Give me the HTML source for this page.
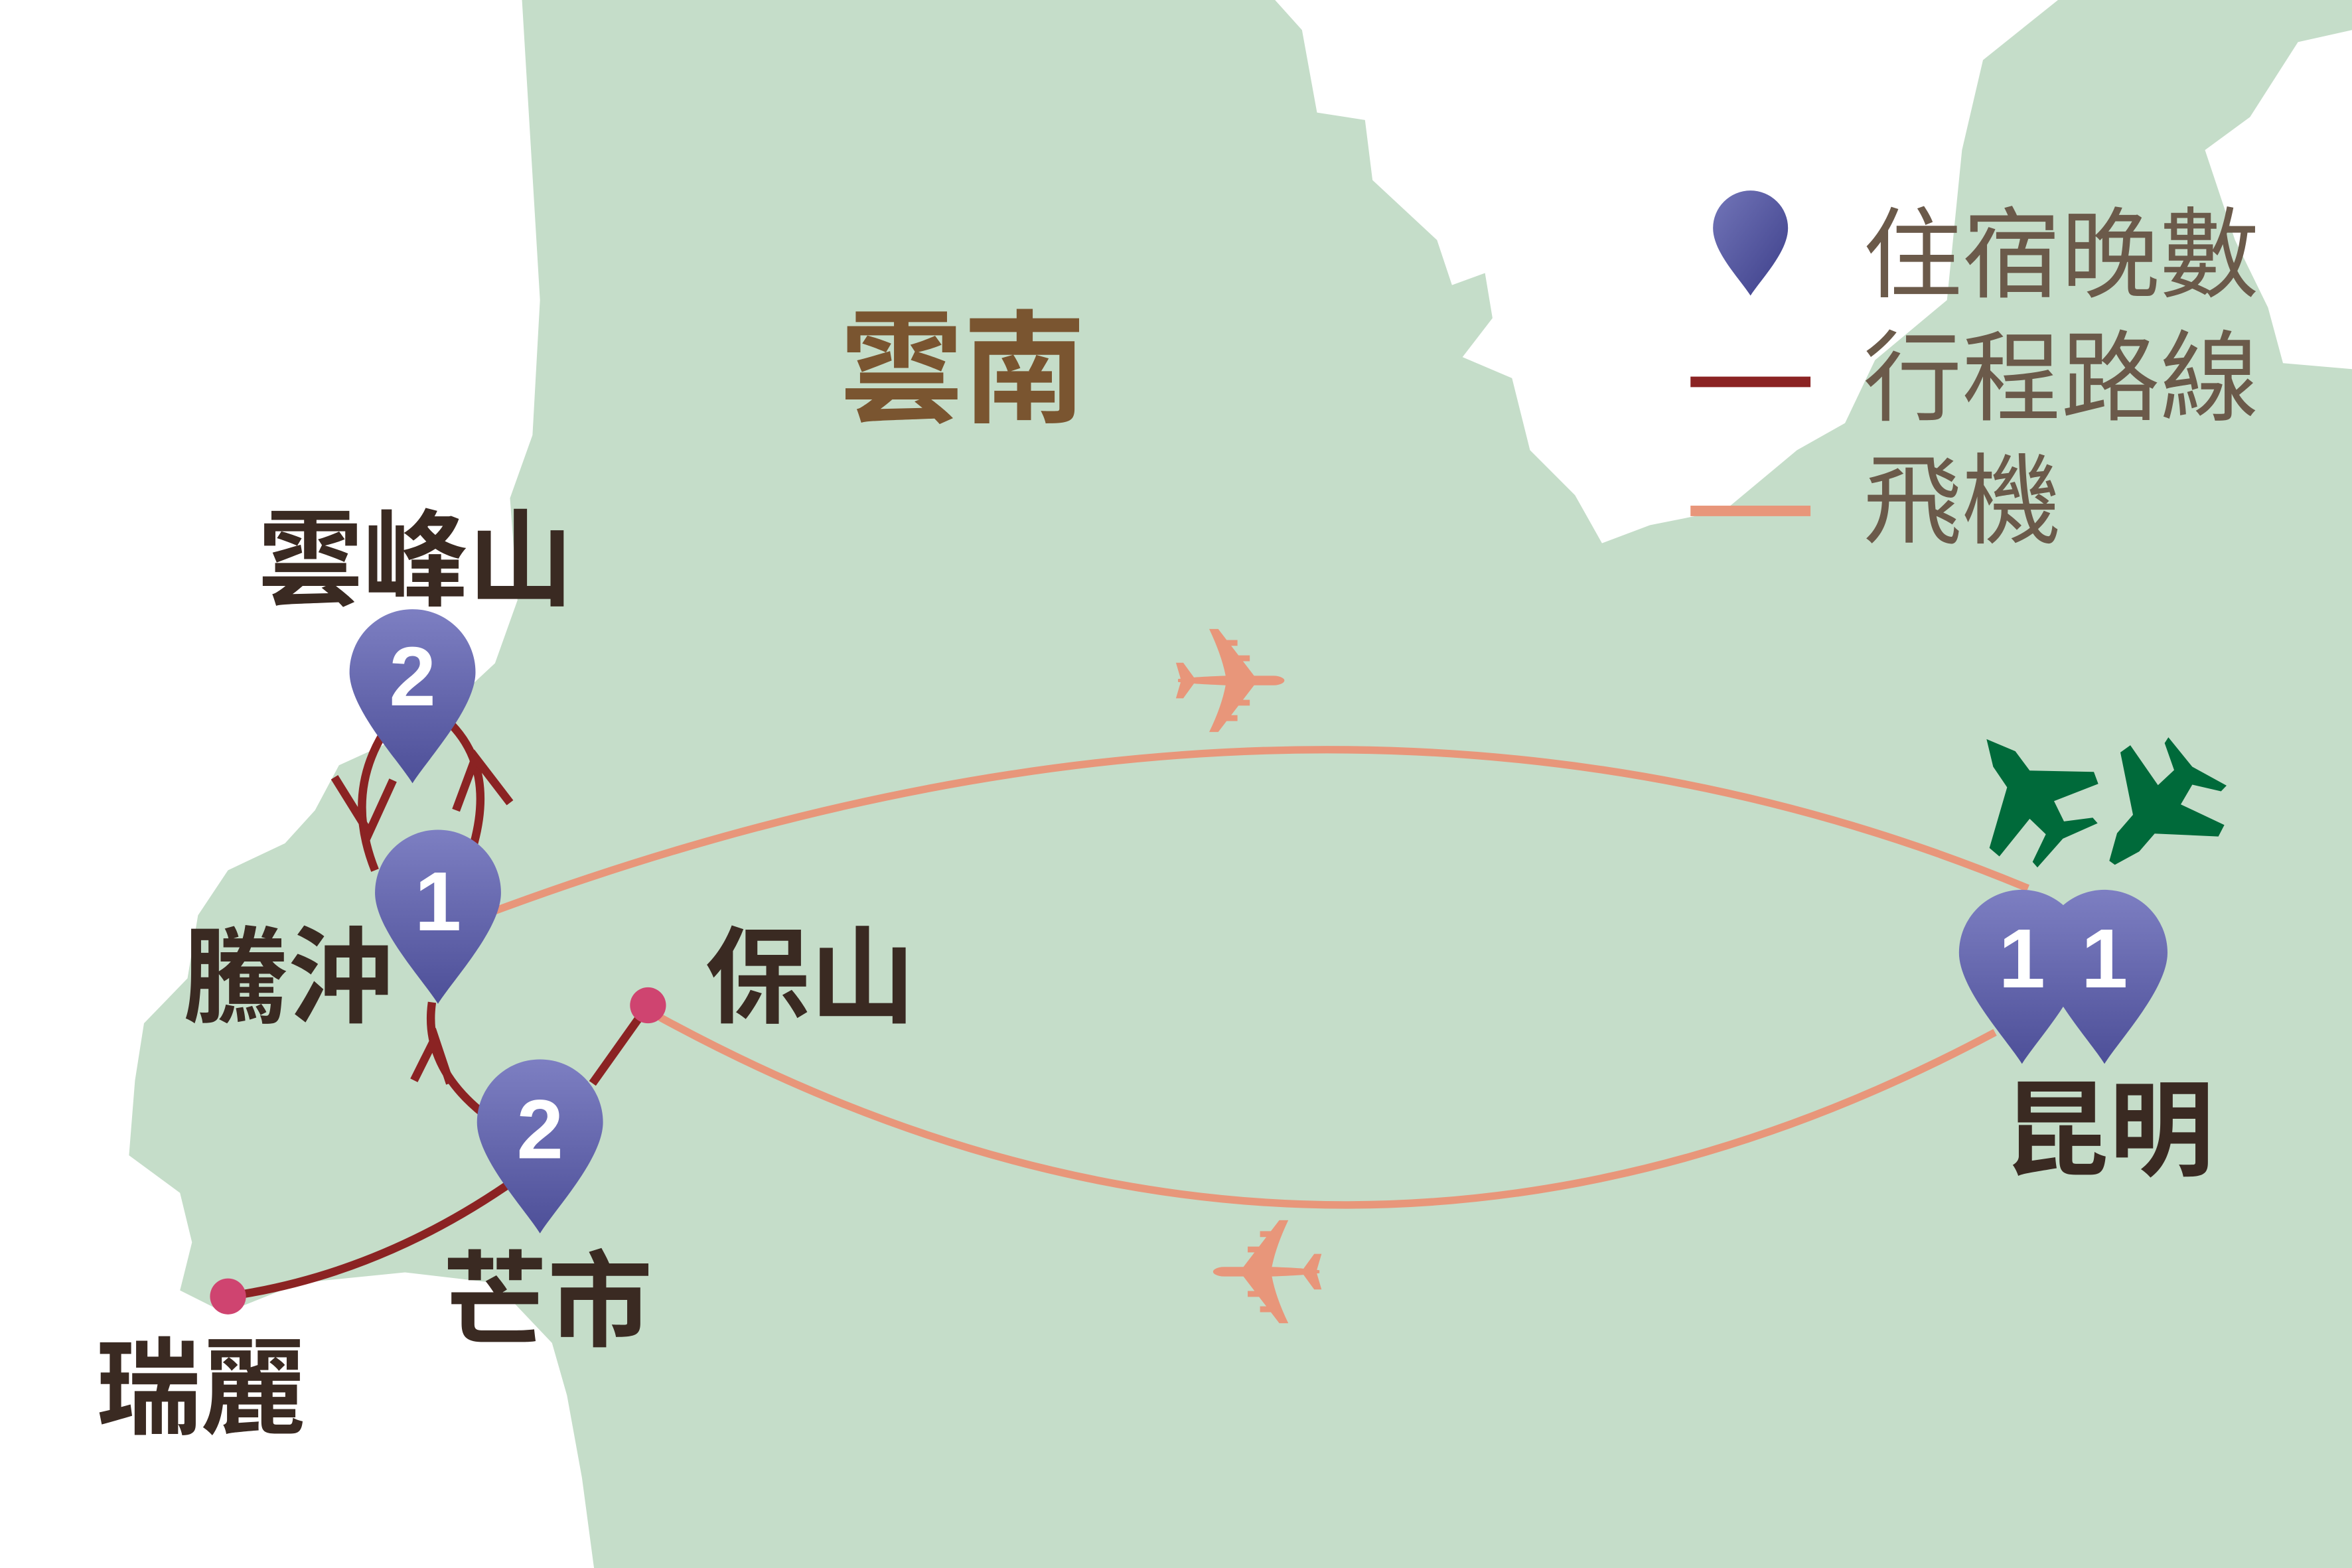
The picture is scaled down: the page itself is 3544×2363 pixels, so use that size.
<!DOCTYPE html>
<html><head><meta charset="utf-8"><style>
html,body{margin:0;padding:0;background:#fff;}
svg{display:block;}
text{font-family:"Liberation Sans","Noto Sans CJK TC",sans-serif;}
</style></head><body>
<svg width="3544" height="2363" viewBox="0 0 1568 1045" preserveAspectRatio="none" xmlns="http://www.w3.org/2000/svg">
<defs>
<linearGradient id="pg" x1="0" y1="0" x2="0" y2="1">
<stop offset="0" stop-color="#7d7fc2"/><stop offset="1" stop-color="#4d4f98"/></linearGradient>
<linearGradient id="lg" x1="0" y1="0" x2="1" y2="1">
<stop offset="0" stop-color="#7275b8"/><stop offset="1" stop-color="#3d3f8a"/></linearGradient>
<symbol id="pin" viewBox="-44 -44 88 120" overflow="visible">
<path d="M0,74 C-10,58 -42,24 -42,0 A42,42 0 0 1 42,0 C42,24 10,58 0,74 Z" fill="url(#pg)"/>
</symbol>
</defs>
<rect width="1568" height="1045" fill="#fff"/>
<path fill="#c5ddc9" d="M348,0 L850,0 L868,20 L878,75 L910,80 L915,120 L958,160 L968,190 L990,182 L995,212 L975,238 L1008,252 L1020,300 L1050,330 L1068,362 L1100,350 L1150,340 L1198,300 L1230,282 L1250,240 L1298,200 L1308,100 L1322,40 L1372,0 L1568,0 L1568,20 L1532,28 L1500,78 L1470,100 L1490,160 L1512,205 L1522,242 L1568,246 L1568,1045 L396,1045 L388,985 L378,930 L368,895 L330,855 L270,848 L200,855 L150,875 L120,860 L128,828 L120,795 L86,770 L90,720 L96,682 L125,652 L132,610 L152,580 L190,562 L210,540 L226,510 L270,490 L300,470 L330,442 L345,400 L340,332 L355,290 L360,200 L354,100 Z"/>
<!-- flight lines -->
<path d="M330,607 Q890,400 1352,592" stroke="#e8967a" stroke-width="5" fill="none"/>
<path d="M440,678 Q890,923 1330,688" stroke="#e8967a" stroke-width="5" fill="none"/>
<!-- routes -->
<g stroke="#8b2323" stroke-width="5.5" fill="none">
<path d="M152,864 Q250,850 338,790"/>
<path d="M395,722 L432,670"/>
<path d="M322,742 Q282,710 288,668"/>
<path d="M250,580 Q230,530 256,488"/>
<path d="M316,562 Q330,510 298,480"/>
<path d="M276,720 L290,692 L300,722"/>
<path d="M223,518 L246,555 L262,520"/>
<path d="M304,540 L317,505 L340,535"/>
</g>
<circle cx="152" cy="864" r="12" fill="#cf4470"/>
<circle cx="432" cy="670" r="12" fill="#cf4470"/>
<!-- pins -->
<use href="#pin" x="231" y="404" width="88" height="120"/>
<use href="#pin" x="248" y="551" width="88" height="120"/>
<use href="#pin" x="316" y="704" width="88" height="120"/>
<use href="#pin" x="1304" y="591" width="88" height="120"/>
<use href="#pin" x="1359" y="591" width="88" height="120"/>
<g fill="#fff" font-weight="bold" font-size="56" text-anchor="middle">
<text x="275" y="470">2</text><text x="292" y="620">1</text><text x="360" y="772">2</text>
<text x="1348" y="658">1</text><text x="1403" y="658">1</text>
</g>
<!-- planes -->
<g font-family="DejaVu Sans,sans-serif" text-anchor="middle">
<text x="820" y="490" font-size="100" fill="#e8967a">✈</text>
<text transform="translate(845,884) scale(-1,1)" font-size="100" fill="#e8967a">✈</text>
</g>
<g transform="scale(0.442438) translate(2960,1090) scale(0.33333)" fill="#006a3a">
<path d="M100,70 L230,125 L295,212 L585,218 L605,272 L405,350 L450,442 L580,425 L602,450 L445,520 L330,650 L308,625 L368,500 L295,430 L158,600 L113,562 L193,288 L130,195 Z"/>
<path d="M655,620 L690,495 L762,412 L705,130 L750,98 L875,278 L948,210 L905,88 L922,62 L1030,195 L1185,280 L1160,306 L1030,276 L978,365 L1175,458 L1148,510 L860,497 L790,578 L680,638 Z"/>
</g>
<!-- labels -->
<text x="560" y="275" font-size="82" fill="#7a5530" font-weight="bold">雲南</text>
<g fill="#3a2a22" font-size="70" font-weight="bold">
<text x="172" y="398">雲峰山</text>
<text x="122" y="676">騰沖</text>
<text x="470" y="676">保山</text>
<text x="295" y="892">芒市</text>
<text x="64" y="950">瑞麗</text>
<text x="1336" y="778">昆明</text>
</g>
<!-- legend -->
<path d="M1167,197 C1160,186 1142,168 1142,152 A25,25 0 0 1 1192,152 C1192,168 1174,186 1167,197 Z" fill="url(#lg)"/>
<rect x="1127" y="251" width="80" height="7" fill="#8b2323"/>
<rect x="1127" y="337" width="80" height="7" fill="#e8967a"/>
<g fill="#6b5a4a" font-size="66">
<text x="1242" y="193">住宿晚數</text>
<text x="1242" y="275">行程路線</text>
<text x="1242" y="357">飛機</text>
</g>
</svg>
</body></html>
